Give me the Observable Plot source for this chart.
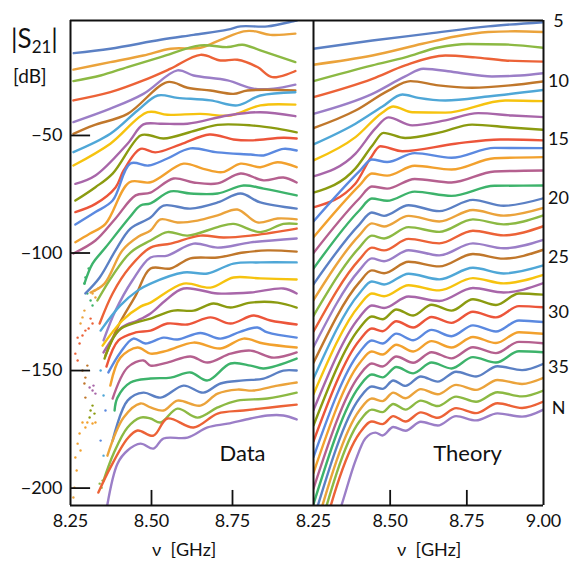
<!DOCTYPE html>
<html><head><meta charset="utf-8">
<script src="https://cdn.jsdelivr.net/npm/d3@7"></script>
<script src="https://cdn.jsdelivr.net/npm/@observablehq/plot@0.6"></script>
<style>
body{margin:0;background:#fff;font-family:Lato,"Open Sans",sans-serif;color:#111}
#wrap{position:relative;width:575px;height:566px;overflow:hidden}
#wrap svg{position:absolute;top:0}
.lbl{position:absolute;white-space:nowrap;color:#111}
</style></head><body><div id="wrap"></div>
<script>
// ---- axis / tick values ----
const yDomain = [-207.4, -1.1];
const xDomain = [8.25, 9.0];
const yTicks = [-50, -100, -150, -200];
const xTicksData = [8.25, 8.5, 8.75];
const xTicksTheory = [8.25, 8.5, 8.75, 9.0];
const nLabels = ["5","10","15","20","25","30","35","N"];
const nLabelDb = [-1.5, -27.0, -51.7, -76.8, -101.9, -125.3, -148.7, -166.2];
const curveN = d3.range(5, 40);
const palette = ["#5b80c4","#eba33b","#8cb943","#ec6237","#9b7ec7","#c0772b","#4fa7d7","#f6c30f","#a866a9","#8b9b10","#ec553a","#5b89e0","#f2a12e","#b5608f","#3db36b"];

// ---- measured |S21| (dB) vs frequency (GHz), N = 5..39 ----
const d05=[[8.260,-15.0],[8.373,-13.1],[8.528,-9.3],[8.630,-7.2],[8.735,-5.0],[8.775,-3.6],[8.858,-3.6],[8.938,-1.4],[8.948,-1.1]];
const d06=[[8.259,-22.0],[8.373,-18.8],[8.475,-16.0],[8.559,-13.1],[8.651,-12.7],[8.713,-9.3],[8.784,-5.7],[8.815,-5.6],[8.867,-7.2],[8.944,-6.7]];
const d07=[[8.259,-26.9],[8.343,-24.5],[8.426,-20.9],[8.528,-16.7],[8.651,-11.7],[8.735,-12.4],[8.781,-11.4],[8.836,-13.8],[8.944,-18.8]];
const d08=[[8.259,-35.1],[8.373,-31.6],[8.475,-26.6],[8.559,-21.6],[8.651,-15.7],[8.713,-18.1],[8.765,-17.8],[8.827,-20.9],[8.873,-25.2],[8.944,-22.6]];
const d09=[[8.259,-44.3],[8.373,-38.6],[8.475,-32.3],[8.580,-22.3],[8.630,-24.5],[8.735,-26.6],[8.815,-30.1],[8.877,-30.1],[8.944,-28.4]];
const d10=[[8.259,-49.3],[8.321,-45.7],[8.426,-40.8],[8.549,-27.3],[8.611,-29.7],[8.682,-30.9],[8.753,-32.3],[8.796,-30.9],[8.944,-30.9]];
const d11=[[8.259,-57.1],[8.373,-49.3],[8.457,-39.4],[8.519,-33.0],[8.580,-34.0],[8.682,-35.1],[8.765,-37.2],[8.836,-33.0],[8.944,-31.6]];
const d12=[[8.259,-62.8],[8.373,-53.5],[8.488,-40.1],[8.549,-41.2],[8.651,-40.8],[8.744,-41.5],[8.836,-37.2],[8.944,-36.9]];
const d13=[[8.265,-70.6],[8.327,-67.0],[8.426,-53.5],[8.475,-45.3],[8.528,-45.0],[8.611,-45.0],[8.735,-41.5],[8.836,-40.1],[8.944,-41.8]];
const d14=[[8.265,-77.7],[8.327,-72.0],[8.380,-66.2],[8.466,-50.0],[8.497,-50.0],[8.537,-51.3],[8.636,-47.9],[8.704,-45.5],[8.806,-45.7],[8.889,-47.1],[8.948,-48.7]];
const d15=[[8.265,-82.6],[8.327,-79.1],[8.389,-72.1],[8.414,-64.9],[8.466,-55.7],[8.512,-57.2],[8.590,-53.8],[8.679,-49.6],[8.753,-51.7],[8.806,-52.1],[8.907,-51.0],[8.948,-51.3]];
const d16=[[8.265,-87.9],[8.327,-82.6],[8.380,-77.7],[8.435,-61.9],[8.491,-62.8],[8.549,-59.8],[8.620,-55.5],[8.704,-57.2],[8.806,-58.1],[8.846,-58.5],[8.907,-55.7],[8.948,-56.4]];
const d17=[[8.265,-95.4],[8.309,-91.8],[8.358,-87.6],[8.432,-69.9],[8.497,-69.9],[8.599,-62.0],[8.660,-64.2],[8.719,-65.6],[8.775,-62.0],[8.836,-63.5],[8.889,-61.4],[8.948,-63.5]];
const d18=[[8.259,-100.2],[8.327,-94.7],[8.389,-85.3],[8.451,-75.5],[8.497,-74.3],[8.568,-68.3],[8.630,-70.0],[8.704,-70.4],[8.775,-66.2],[8.846,-69.1],[8.907,-67.9],[8.948,-70.0]];
const d19=[[8.293,-113.0],[8.318,-104.5],[8.358,-97.7],[8.432,-84.9],[8.466,-79.8],[8.497,-78.9],[8.559,-73.8],[8.620,-74.7],[8.704,-74.7],[8.784,-71.3],[8.846,-72.6],[8.948,-75.5]];
const d20=[[8.296,-117.2],[8.340,-110.4],[8.389,-98.9],[8.435,-89.6],[8.497,-84.9],[8.537,-79.8],[8.620,-81.1],[8.704,-78.5],[8.775,-74.7],[8.836,-78.5],[8.948,-81.1]];
const d21=[[8.312,-116.8],[8.355,-113.0],[8.410,-98.9],[8.460,-93.0],[8.497,-90.4],[8.528,-85.7],[8.580,-87.0],[8.642,-86.2],[8.704,-84.0],[8.765,-81.5],[8.827,-87.0],[8.889,-85.3],[8.948,-85.7]];
const d22=[[8.333,-120.2],[8.380,-109.6],[8.435,-99.8],[8.497,-94.7],[8.549,-91.1],[8.611,-92.6],[8.704,-89.0],[8.753,-87.6],[8.836,-91.1],[8.907,-87.6],[8.948,-87.6]];
const d23=[[8.340,-130.0],[8.380,-117.2],[8.432,-106.2],[8.497,-97.7],[8.559,-96.0],[8.651,-92.6],[8.722,-93.4],[8.806,-92.6],[8.948,-89.6]];
const d24=[[8.352,-137.2],[8.389,-124.5],[8.441,-111.7],[8.497,-101.9],[8.549,-101.1],[8.630,-96.0],[8.704,-97.7],[8.806,-95.5],[8.948,-93.8]];
const d25=[[8.358,-143.6],[8.398,-130.8],[8.451,-118.1],[8.497,-106.6],[8.559,-106.6],[8.620,-102.3],[8.704,-101.9],[8.784,-99.8],[8.858,-98.9],[8.948,-99.4]];
const d26=[[8.343,-133.0],[8.404,-122.3],[8.457,-116.0],[8.497,-113.0],[8.599,-108.3],[8.673,-108.7],[8.753,-104.5],[8.836,-104.0],[8.948,-104.0]];
const d27=[[8.349,-139.4],[8.410,-128.7],[8.466,-122.8],[8.497,-121.1],[8.599,-113.0],[8.682,-114.7],[8.753,-110.4],[8.836,-110.8],[8.948,-111.3]];
const d28=[[8.352,-142.3],[8.410,-131.5],[8.457,-128.7],[8.497,-125.7],[8.543,-120.2],[8.599,-115.1],[8.704,-117.2],[8.806,-116.8],[8.907,-115.1],[8.948,-117.2]];
const d29=[[8.355,-144.9],[8.398,-133.0],[8.451,-129.6],[8.497,-127.9],[8.568,-124.5],[8.630,-124.5],[8.691,-121.5],[8.744,-123.2],[8.806,-121.1],[8.889,-121.1],[8.948,-123.2]];
const d30=[[8.361,-148.3],[8.398,-137.2],[8.451,-133.8],[8.497,-133.0],[8.549,-130.0],[8.611,-130.4],[8.682,-127.4],[8.744,-130.0],[8.815,-126.6],[8.867,-128.7],[8.948,-130.4]];
const d31=[[8.367,-150.8],[8.404,-142.3],[8.444,-136.4],[8.481,-138.5],[8.537,-136.0],[8.580,-136.8],[8.651,-134.0],[8.713,-136.4],[8.775,-133.4],[8.827,-131.7],[8.858,-133.8],[8.948,-136.0]];
const d32=[[8.373,-156.4],[8.404,-144.5],[8.457,-140.2],[8.497,-142.8],[8.549,-141.5],[8.630,-138.1],[8.713,-140.6],[8.784,-136.4],[8.846,-138.5],[8.948,-140.2]];
const d33=[[8.380,-161.9],[8.426,-148.7],[8.475,-145.7],[8.497,-147.9],[8.549,-146.6],[8.620,-144.0],[8.673,-146.6],[8.744,-142.8],[8.806,-141.5],[8.877,-144.5],[8.948,-142.3]];
const d34=[[8.386,-167.0],[8.395,-161.5],[8.435,-155.1],[8.497,-153.4],[8.559,-153.0],[8.620,-150.8],[8.673,-154.2],[8.744,-147.0],[8.806,-147.9],[8.846,-149.1],[8.948,-144.9]];
const d35=[[8.380,-179.8],[8.426,-162.8],[8.475,-159.4],[8.528,-161.5],[8.599,-156.4],[8.660,-159.4],[8.713,-155.5],[8.784,-154.2],[8.846,-153.4],[8.907,-150.0],[8.948,-150.0]];
const d36=[[8.364,-186.2],[8.414,-170.0],[8.466,-164.0],[8.497,-165.7],[8.537,-167.0],[8.580,-162.8],[8.651,-164.9],[8.704,-159.8],[8.765,-158.1],[8.815,-158.5],[8.889,-156.4],[8.948,-155.1]];
const d37=[[8.352,-196.8],[8.383,-185.3],[8.426,-174.2],[8.466,-170.0],[8.497,-170.4],[8.528,-172.1],[8.580,-166.2],[8.642,-170.0],[8.704,-165.7],[8.765,-162.8],[8.858,-161.9],[8.948,-159.4]];
const d38=[[8.336,-201.9],[8.373,-191.3],[8.426,-178.9],[8.457,-175.5],[8.506,-177.7],[8.549,-170.4],[8.630,-174.2],[8.704,-168.3],[8.784,-167.0],[8.867,-165.7],[8.948,-164.5]];
const d39=[[8.358,-211.7],[8.395,-189.6],[8.426,-184.0],[8.466,-181.1],[8.506,-183.2],[8.537,-178.9],[8.611,-178.5],[8.673,-174.2],[8.735,-172.6],[8.806,-170.4],[8.858,-169.1],[8.907,-169.1],[8.948,-170.8]];
const dataCurves=[d05,d06,d07,d08,d09,d10,d11,d12,d13,d14,d15,d16,d17,d18,d19,d20,d21,d22,d23,d24,d25,d26,d27,d28,d29,d30,d31,d32,d33,d34,d35,d36,d37,d38,d39];

// below-noise scattered samples in the data panel: [GHz, dB, N]
const noiseDots=[[8.293,-113.0,19],[8.296,-110.4,19],[8.306,-106.6,19],[8.302,-117.2,19],[8.312,-120.2,19],[8.318,-122.3,19],
[8.287,-127.4,21],[8.281,-130.0,21],[8.293,-124.5,21],[8.318,-117.2,21],[8.324,-116.0,21],[8.327,-118.9,21],[8.336,-115.1,21],
[8.272,-136.0,23],[8.278,-138.5,23],[8.287,-135.1,23],[8.296,-133.0,23],[8.318,-130.0,23],[8.265,-142.8,23],[8.272,-145.7,23],[8.306,-132.1,23],[8.312,-127.9,23],
[8.287,-150.0,25],[8.296,-153.0,25],[8.293,-155.5,25],[8.296,-161.5,25],[8.302,-147.9,25],
[8.309,-157.2,28],[8.318,-158.5,28],[8.327,-159.8,28],[8.321,-156.4,28],
[8.312,-167.0,29],[8.324,-168.3,29],[8.309,-170.0,29],[8.318,-164.9,29],
[8.287,-172.1,32],[8.296,-174.2,32],[8.278,-176.8,32],[8.272,-181.1,32],[8.265,-187.0,32],[8.281,-184.0,32],[8.302,-172.1,32],[8.318,-172.5,32],[8.327,-172.1,32],[8.262,-199.8,32],[8.269,-192.5,32],
[8.343,-150.0,26],[8.352,-160.6,26],[8.358,-167.0,31],[8.343,-179.8,31],[8.352,-186.2,26],
[8.349,-196.8,37],[8.340,-198.1,37],[8.346,-199.8,37],[8.259,-204.0,36]];

// ---- theory |S21| (dB) vs frequency (GHz), N = 5..39 ----
const t05=[[8.25,-13.1],[8.442,-9.6],[8.624,-6.7],[8.819,-3.6],[9.0,-1.8]];
const t06=[[8.25,-19.9],[8.442,-16.0],[8.605,-11.0],[8.712,-7.9],[8.819,-6.0],[8.907,-5.7],[9.0,-6.0]];
const t07=[[8.25,-26.9],[8.442,-20.2],[8.549,-16.8],[8.657,-12.6],[8.754,-11.1],[8.875,-11.3],[9.0,-12.7]];
const t08=[[8.25,-33.7],[8.442,-25.9],[8.549,-20.2],[8.680,-16.0],[8.777,-16.8],[8.875,-18.1],[9.0,-18.6]];
const t09=[[8.25,-40.8],[8.442,-32.3],[8.549,-24.9],[8.608,-21.6],[8.712,-23.1],[8.832,-24.9],[8.924,-24.5],[9.0,-23.5]];
const t10=[[8.25,-46.9],[8.387,-39.4],[8.494,-30.9],[8.566,-26.9],[8.657,-28.7],[8.767,-29.7],[8.891,-28.7],[9.0,-27.0]];
const t11=[[8.25,-53.8],[8.387,-45.0],[8.475,-37.7],[8.540,-32.6],[8.592,-34.0],[8.680,-35.1],[8.826,-33.3],[9.0,-30.6]];
const t12=[[8.25,-60.6],[8.387,-50.7],[8.475,-40.2],[8.510,-37.7],[8.572,-40.1],[8.680,-40.3],[8.875,-35.1],[9.0,-35.4]];
const t13=[[8.25,-67.4],[8.387,-57.7],[8.452,-47.0],[8.494,-42.3],[8.572,-45.7],[8.680,-43.6],[8.787,-40.5],[8.898,-41.5],[9.0,-42.2]];
const t14=[[8.25,-74.3],[8.387,-64.0],[8.442,-54.3],[8.478,-48.9],[8.549,-51.1],[8.663,-48.7],[8.767,-45.4],[8.891,-46.6],[9.0,-47.6]];
const t15=[[8.25,-80.6],[8.387,-70.4],[8.435,-59.8],[8.468,-54.6],[8.540,-56.7],[8.712,-53.5],[8.859,-51.7],[9.0,-52.1]];
const t16=[[8.25,-86.6],[8.40,-65.2],[8.44,-60.2],[8.49,-61.3],[8.58,-57.5],[8.70,-59.5],[8.84,-55.3],[9.0,-55.4]];
const t17=[[8.25,-93.3],[8.40,-71.2],[8.44,-66.2],[8.49,-67.1],[8.58,-62.9],[8.70,-64.5],[8.84,-59.7],[9.0,-59.2]];
const t18=[[8.25,-100.0],[8.40,-76.7],[8.44,-71.7],[8.49,-72.6],[8.58,-68.5],[8.70,-70.0],[8.84,-65.3],[9.0,-64.9]];
const t19=[[8.25,-106.6],[8.40,-81.8],[8.44,-76.8],[8.49,-77.8],[8.58,-73.9],[8.70,-75.7],[8.84,-71.4],[9.0,-71.3]];
const t20=[[8.25,-113.3],[8.40,-87.8],[8.44,-82.8],[8.48,-84.2],[8.56,-79.7],[8.66,-82.2],[8.77,-77.4],[8.87,-79.9],[9.0,-76.7]];
const t21=[[8.25,-120.0],[8.40,-92.4],[8.44,-87.4],[8.48,-88.7],[8.56,-84.2],[8.66,-86.6],[8.77,-81.7],[8.87,-84.1],[9.0,-80.8]];
const t22=[[8.25,-126.7],[8.40,-97.6],[8.44,-92.6],[8.48,-93.8],[8.56,-89.0],[8.66,-91.0],[8.77,-85.7],[8.87,-87.8],[9.0,-84.0]];
const t23=[[8.25,-133.4],[8.40,-102.7],[8.44,-97.7],[8.48,-98.9],[8.56,-94.0],[8.66,-95.9],[8.77,-90.5],[8.87,-92.5],[9.0,-88.6]];
const t24=[[8.25,-140.0],[8.40,-107.3],[8.44,-102.3],[8.48,-103.5],[8.56,-98.8],[8.66,-101.0],[8.77,-95.9],[8.87,-98.0],[9.0,-94.4]];
const t25=[[8.25,-146.7],[8.40,-112.4],[8.44,-107.4],[8.48,-108.6],[8.56,-103.7],[8.66,-105.7],[8.77,-100.4],[8.87,-102.4],[9.0,-98.6]];
const t26=[[8.25,-153.4],[8.40,-117.1],[8.44,-112.1],[8.48,-113.4],[8.56,-108.8],[8.66,-111.2],[8.77,-106.3],[8.87,-108.7],[9.0,-105.3]];
const t27=[[8.25,-160.1],[8.40,-122.2],[8.44,-117.2],[8.48,-118.4],[8.56,-113.7],[8.66,-115.9],[8.77,-110.7],[8.87,-112.9],[9.0,-109.3]];
const t28=[[8.25,-166.8],[8.40,-127.3],[8.44,-122.3],[8.48,-123.4],[8.56,-118.5],[8.66,-120.4],[8.77,-114.9],[8.87,-116.8],[9.0,-112.8]];
const t29=[[8.25,-173.4],[8.40,-132.0],[8.44,-127.0],[8.475,-128.2],[8.52,-124.0],[8.575,-126.6],[8.635,-122.0],[8.70,-124.5],[8.77,-119.7],[8.845,-122.1],[8.92,-117.2],[9.0,-117.7]];
const t30=[[8.25,-180.1],[8.40,-137.1],[8.44,-132.1],[8.475,-133.3],[8.52,-129.0],[8.575,-131.7],[8.635,-127.2],[8.70,-129.7],[8.77,-125.0],[8.845,-127.4],[8.92,-122.6],[9.0,-123.1]];
const t31=[[8.25,-186.8],[8.40,-142.2],[8.44,-137.2],[8.475,-138.5],[8.52,-134.3],[8.575,-137.1],[8.635,-132.7],[8.70,-135.4],[8.77,-130.8],[8.845,-133.4],[8.92,-128.7],[9.0,-129.4]];
const t32=[[8.25,-193.5],[8.40,-146.9],[8.44,-141.9],[8.475,-143.2],[8.52,-139.0],[8.575,-141.9],[8.635,-137.5],[8.70,-140.2],[8.77,-135.7],[8.845,-138.3],[8.92,-133.7],[9.0,-134.4]];
const t33=[[8.25,-200.2],[8.40,-152.0],[8.44,-147.0],[8.475,-148.3],[8.52,-144.0],[8.575,-146.7],[8.635,-142.2],[8.70,-144.8],[8.77,-140.1],[8.845,-142.6],[8.92,-137.8],[9.0,-138.4]];
const t34=[[8.25,-206.8],[8.40,-156.7],[8.44,-151.7],[8.475,-152.9],[8.52,-148.5],[8.575,-151.2],[8.635,-146.6],[8.70,-149.1],[8.77,-144.3],[8.845,-146.6],[8.92,-141.8],[9.0,-142.2]];
const t35=[[8.25,-213.5],[8.40,-161.8],[8.44,-156.8],[8.475,-157.8],[8.51,-154.2],[8.55,-156.5],[8.60,-152.5],[8.655,-154.7],[8.715,-150.5],[8.78,-152.5],[8.85,-148.2],[8.93,-149.8],[9.0,-147.1]];
const t36=[[8.25,-220.2],[8.40,-166.9],[8.44,-161.9],[8.475,-163.0],[8.51,-159.4],[8.55,-161.8],[8.60,-157.9],[8.655,-160.1],[8.715,-156.1],[8.78,-158.2],[8.85,-154.0],[8.93,-155.7],[9.0,-153.1]];
const t37=[[8.25,-226.9],[8.40,-171.6],[8.44,-166.6],[8.475,-167.7],[8.51,-164.2],[8.55,-166.6],[8.60,-162.8],[8.655,-165.1],[8.715,-161.1],[8.78,-163.3],[8.85,-159.2],[8.93,-161.0],[9.0,-158.5]];
const t38=[[8.25,-233.6],[8.40,-176.7],[8.44,-171.7],[8.475,-172.8],[8.51,-169.4],[8.55,-171.7],[8.60,-167.8],[8.655,-170.1],[8.715,-166.0],[8.78,-168.1],[8.85,-163.9],[8.93,-165.9],[9.0,-163.2]];
const t39=[[8.25,-240.2],[8.341,-207.4],[8.387,-188.3],[8.419,-178.9],[8.452,-176.4],[8.475,-177.6],[8.51,-174.0],[8.55,-175.6],[8.60,-171.8],[8.655,-173.4],[8.715,-169.4],[8.78,-171.2],[8.85,-168.2],[8.93,-169.6],[9.0,-166.6]];
const theoryCurves=[t05,t06,t07,t08,t09,t10,t11,t12,t13,t14,t15,t16,t17,t18,t19,t20,t21,t22,t23,t24,t25,t26,t27,t28,t29,t30,t31,t32,t33,t34,t35,t36,t37,t38,t39];

// ---- build tables ----
const colorOf = n => palette[(n - 5) % 15];
const toRows = curves => curves.flatMap((c, i) => c.map(([f, db]) => ({n: curveN[i], f, db})));
const dataRows = toRows(dataCurves);
const theoryRows = toRows(theoryCurves);
const dotRows = noiseDots.map(([f, db, n]) => ({f, db, n}));
const labelRows = nLabels.map((t, i) => ({t, db: nLabelDb[i]}));

const common = {
  height: 566, marginTop: 20, marginBottom: 61,
  x: {domain: xDomain},
  color: {type: "identity"},
  style: {fontFamily: "Lato, 'Open Sans', sans-serif", fontSize: "18px", color: "#111", background: "transparent", overflow: "visible"}
};
const tickLen = 0.062, xTickLen = 6.4;

const left = Plot.plot({
  ...common, width: 313, marginLeft: 70, marginRight: 0,
  y: {domain: yDomain},
  marks: [
    Plot.dot(dotRows, {x: "f", y: "db", r: 1.2, fill: d => colorOf(d.n), clip: true}),
    Plot.line(dataRows, {x: "f", y: "db", z: "n", stroke: d => colorOf(d.n), strokeWidth: 2.4, curve: "catmull-rom", clip: true}),
    Plot.ruleY(yTicks, {x1: xDomain[0], x2: xDomain[0] + tickLen, stroke: "#111", strokeWidth: 1.8}),
    Plot.ruleX(xTicksData.slice(1), {y1: yDomain[0], y2: yDomain[0] + xTickLen, stroke: "#111", strokeWidth: 1.8}),
    Plot.ruleX([xDomain[0]], {stroke: "#111", strokeWidth: 2}),
    Plot.ruleY(yDomain, {stroke: "#111", strokeWidth: 2}),
    Plot.axisY({ticks: yTicks, tickSize: 0, tickPadding: 8, fontSize: 18, label: null}),
    Plot.axisX({ticks: xTicksData, tickSize: 0, tickPadding: 9, fontSize: 18, tickFormat: d3.format(".2f"), label: null}),
    Plot.text(["Data"], {frameAnchor: "bottom-right", dx: -71, dy: -45, fontSize: 22, textAnchor: "middle", fill: "#111"})
  ]
});
const right = Plot.plot({
  ...common, width: 275, marginLeft: 13, marginRight: 32,
  y: {domain: yDomain, axis: null},
  marks: [
    Plot.line(theoryRows, {x: "f", y: "db", z: "n", stroke: d => colorOf(d.n), strokeWidth: 2.4, curve: "monotone-x", clip: true}),
    Plot.ruleX(xTicksTheory.slice(1, 3), {y1: yDomain[0], y2: yDomain[0] + xTickLen, stroke: "#111", strokeWidth: 1.8}),
    Plot.ruleX(xDomain, {stroke: "#111", strokeWidth: 2}),
    Plot.ruleY(yDomain, {stroke: "#111", strokeWidth: 2}),
    Plot.axisX({ticks: xTicksTheory, tickSize: 0, tickPadding: 9, fontSize: 18, tickFormat: d3.format(".2f"), label: null}),
    Plot.text(labelRows, {y: "db", text: "t", frameAnchor: "right", dx: 15, textAnchor: "middle", fontSize: 18, fill: "#111"}),
    Plot.text(["Theory"], {frameAnchor: "bottom-right", dx: -76, dy: -45, fontSize: 22, textAnchor: "middle", fill: "#111"})
  ]
});
const wrap = document.getElementById("wrap");
left.style.left = "0px"; right.style.left = "300px";
wrap.append(left, right);
const addLabel = (html, css) => { const d = document.createElement("div"); d.className = "lbl"; d.innerHTML = html; d.style.cssText += css; wrap.append(d); };
addLabel("|S<sub style='font-size:17px;vertical-align:-5px'>21</sub>|", "left:11px;top:22px;font-size:26px;");
addLabel("[dB]", "left:13px;top:64px;font-size:19px;");
addLabel("&nu;&nbsp;&nbsp;[GHz]", "left:152px;top:538px;font-size:18px;");
addLabel("&nu;&nbsp;&nbsp;[GHz]", "left:397px;top:538px;font-size:18px;");
</script></body></html>
